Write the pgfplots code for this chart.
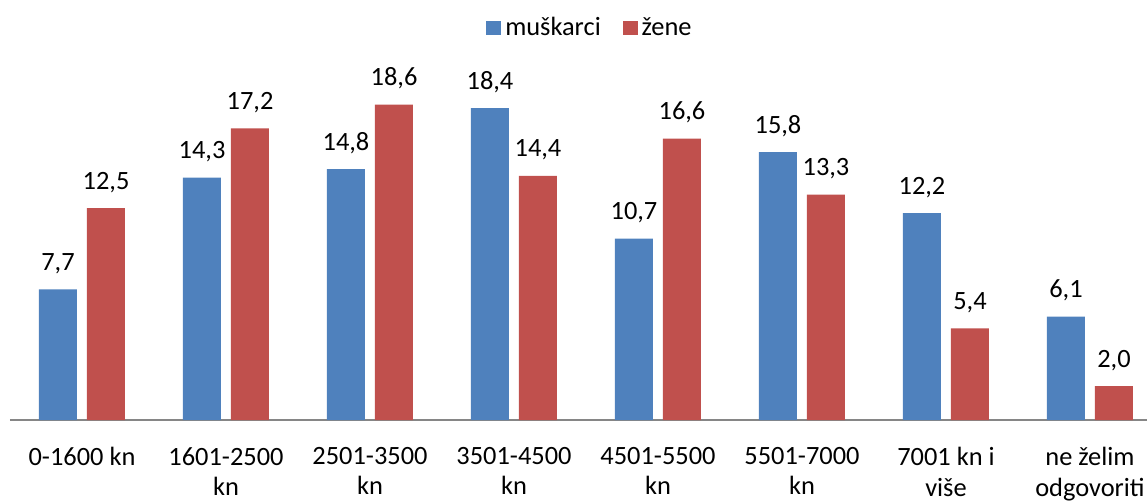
\documentclass[border=0pt]{standalone}
\usepackage{pgfplots}
\pgfplotsset{compat=1.18}
\usepackage{fontspec}
\setmainfont{Carlito}
\definecolor{cblue}{HTML}{4F81BD}
\definecolor{cred}{HTML}{C0504D}
\definecolor{cgray}{HTML}{868686}
\begin{document}
\begin{tikzpicture}
\path[use as bounding box] (-5pt,-40pt) rectangle (568.5pt,210pt);
\begin{axis}[
  at={(0,0)}, anchor=south west,
  scale only axis,
  width=568.5pt, height=178pt,
  ybar=5pt, bar width=19pt,
  xmin=-0.5, xmax=7.396,
  ymin=0, ymax=21,
  axis x line*=bottom,
  axis y line=none,
  x axis line style={cgray, line width=1pt, -},
  xtick={0,1,2,3,4,5,6,7},
  major tick length=0pt,
  xticklabels={0-1600 kn, 1601-2500\\kn, 2501-3500\\kn, 3501-4500\\kn, 4501-5500\\kn, 5501-7000\\kn, 7001 kn i\\više, ne želim\\odgovoriti},
  xticklabel style={align=center, anchor=north, inner sep=0pt, yshift=-13.5pt, font=\fontsize{13.2}{15.2}\selectfont},
  clip=false,
  nodes near coords,
  /pgf/number format/.cd, use comma, fixed, fixed zerofill, precision=1, assume math mode=true,
  /pgfplots/.cd,
  every node near coord/.append style={anchor=base, inner sep=0pt, yshift=9.5pt, font=\fontsize{13.2}{16}\selectfont, text=black},
  legend style={at={(0.511,1.101)}, anchor=center, draw=none, fill=none,
    legend columns=-1, font=\fontsize{13.2}{16}\selectfont,
    /tikz/every even column/.append style={column sep=9pt},
    nodes={inner sep=2pt}},
  legend image code/.code={\fill[#1] (0pt,-3.6pt) rectangle (7.4pt,3.6pt);},
]
\addplot[fill=cblue, draw=none] coordinates {(0,7.7) (1,14.3) (2,14.8) (3,18.4) (4,10.7) (5,15.8) (6,12.2) (7,6.1)};
\addplot[fill=cred, draw=none] coordinates {(0,12.5) (1,17.2) (2,18.6) (3,14.4) (4,16.6) (5,13.3) (6,5.4) (7,2.0)};
\legend{muškarci, žene}
\end{axis}
\end{tikzpicture}
\end{document}
